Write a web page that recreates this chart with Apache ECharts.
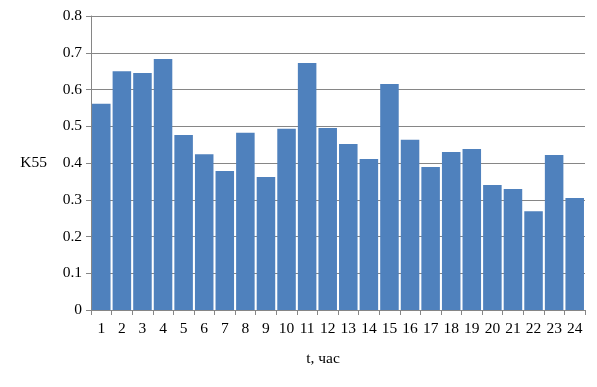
<!DOCTYPE html>
<html><head><meta charset="utf-8">
<script src="https://cdn.jsdelivr.net/npm/echarts@6/dist/echarts.min.js"></script>
<style>html,body{margin:0;padding:0;background:#fff}#c{width:597px;height:387px}</style>
</head><body><div id="c"></div>
<script>
const categories = ['1','2','3','4','5','6','7','8','9','10','11','12','13','14','15','16','17','18','19','20','21','22','23','24'];
const values = [0.561,0.650,0.645,0.683,0.476,0.424,0.378,0.482,0.362,0.493,0.672,0.495,0.452,0.411,0.615,0.463,0.389,0.430,0.438,0.340,0.329,0.269,0.422,0.305];
const yTicks = {min:0, max:0.8, interval:0.1};
const font = 'Liberation Serif';
const chart = echarts.init(document.getElementById('c'), null, {renderer:'canvas'});
chart.setOption({
  animation:false,
  grid:{left:91, right:12, top:16, bottom:77, containLabel:false},
  xAxis:{type:'category', data:categories,
    name:'t, час', nameLocation:'middle', nameGap:41,
    nameTextStyle:{fontFamily:font, fontSize:15.5, color:'#000', padding:[0,30,0,0]},
    axisLine:{lineStyle:{color:'#868686', width:1}},
    axisTick:{show:true, alignWithLabel:false, length:5, lineStyle:{color:'#868686'}},
    axisLabel:{fontFamily:font, fontSize:15.5, color:'#000', margin:11, interval:0}},
  yAxis:{type:'value', min:yTicks.min, max:yTicks.max, interval:yTicks.interval,
    name:'K55', nameLocation:'middle', nameRotate:0, nameGap:44,
    nameTextStyle:{fontFamily:font, fontSize:15.5, color:'#000'},
    axisLine:{show:true, lineStyle:{color:'#868686', width:1}},
    axisTick:{show:true, length:5, lineStyle:{color:'#868686'}},
    splitLine:{lineStyle:{color:'#868686', width:1}},
    axisLabel:{fontFamily:font, fontSize:15.5, color:'#000', margin:9, formatter:v=>v===0?'0':v.toFixed(1)}},
  series:[{type:'bar', data:values, barCategoryGap:'10%', itemStyle:{color:'#4F81BD'}}]
});
</script></body></html>
